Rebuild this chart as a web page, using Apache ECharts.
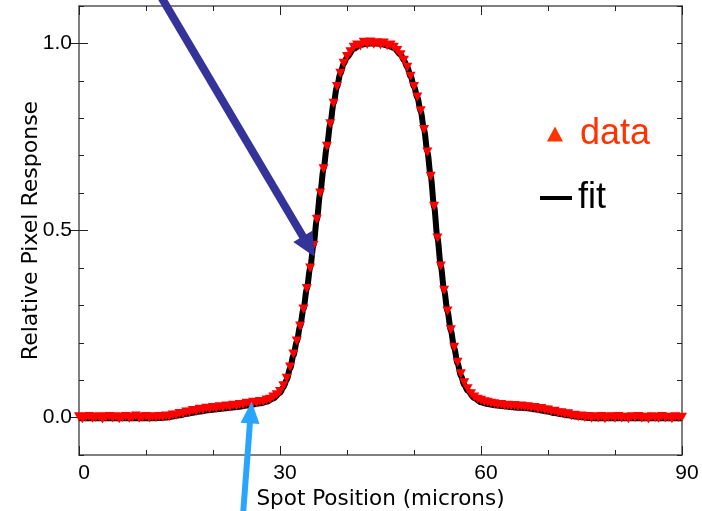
<!DOCTYPE html>
<html>
<head>
<meta charset="utf-8">
<script src="https://cdn.jsdelivr.net/npm/echarts@6/dist/echarts.min.js"></script>
<style>html,body{margin:0;padding:0;background:#fff}#c{width:702px;height:511px}</style>
</head>
<body>
<div id="c"></div>
<script>
// ---- data ----
const dataX = [0,0.5,1,1.5,2,2.5,3,3.5,4,4.5,5,5.5,6,6.5,7,7.5,8,8.5,9,9.5,10,10.5,11,11.5,12,12.5,
13,13.5,14,14.5,15,15.5,16,16.5,17,17.5,18,18.5,19,19.5,20,20.5,21,21.5,22,22.5,23,23.5,24,24.5,25,25.5,26,26.5,27,27.5,28,28.5,29,29.5,
30,30.5,31,31.5,32,32.5,33,33.5,34,34.5,35,35.5,36,36.5,37,37.5,38,38.5,39,39.5,40,40.5,41,41.5,42,42.5,43,43.5,44,44.5,45,45.5,46,46.5,47,47.5,48,48.5,49,49.5,50,50.5,51,51.5,52,52.5,53,53.5,54,54.5,55,55.5,56,56.5,57,57.5,58,58.5,59,59.5,
60,60.5,61,61.5,62,62.5,63,63.5,64,64.5,65,65.5,66,66.5,67,67.5,68,68.5,69,69.5,70,70.5,71,71.5,72,72.5,73,73.5,74,74.5,75,
75.5,76,76.5,77,77.5,78,78.5,79,79.5,80,80.5,81,81.5,82,82.5,83,83.5,84,84.5,85,85.5,86,86.5,87,87.5,88,88.5,89,89.5,90];
const dataY = [0.002,-0.003,0.001,0.003,-0.002,0.000,0.002,-0.004,0.001,0.003,-0.001,0.002,-0.003,0.000,0.003,-0.002,0.001,0.004,-0.002,0.001,0.003,-0.001,0.002,0.000,0.003,0.001,
0.004,0.003,0.007,0.006,0.011,0.010,0.015,0.014,0.019,0.017,0.022,0.020,0.025,0.023,0.027,0.025,0.029,0.027,0.031,0.029,0.033,0.031,0.035,0.034,0.038,0.036,0.041,0.039,0.043,0.042,0.047,0.049,0.055,0.061,
0.070,0.085,0.105,0.135,0.170,0.205,0.245,0.290,0.345,0.400,0.460,0.530,0.600,0.665,0.725,0.785,0.840,0.885,0.920,0.947,0.965,0.978,0.990,0.996,0.993,1.003,0.997,1.004,0.998,1.002,0.996,1.001,0.994,0.996,0.990,0.981,0.970,0.955,0.936,0.912,0.885,0.857,0.820,0.770,0.710,0.645,0.565,0.480,0.405,0.340,0.285,0.235,0.188,0.148,0.117,0.093,0.077,0.064,0.055,0.049,
0.046,0.042,0.041,0.038,0.037,0.035,0.035,0.032,0.033,0.031,0.032,0.029,0.031,0.028,0.029,0.026,0.027,0.023,0.024,0.020,0.020,0.016,0.017,0.012,0.013,0.009,0.010,0.005,0.006,0.002,0.004,
0.000,0.003,-0.002,0.002,-0.001,0.003,-0.003,0.001,0.002,-0.002,0.003,-0.001,0.001,-0.003,0.002,0.000,0.003,-0.002,0.001,-0.004,0.002,0.000,-0.002,0.003,-0.001,0.001,-0.003,0.002,0.000,0.001];

const fitX = [0,2,4,6,8,10,12,
13,14,15,16,17,18,19,20,21,22,23,24,25,26,27,28,29,30,
30.5,31,31.5,32,32.5,33,33.5,34,34.5,35,35.5,36,36.5,37,37.5,38,38.5,39,39.5,40,
41,42,43,44,45,46,47,48,
48.5,49,49.5,50,50.5,51,51.5,52,52.5,53,53.5,54,54.5,55,55.5,56,56.5,57,57.5,58,
59,60,61,62,63,64,65,66,67,68,69,70,71,72,73,74,75,76,
78,80,85,90];
const fitY = [-0.002,-0.002,-0.002,-0.002,-0.002,-0.002,-0.001,
0.000,0.003,0.006,0.010,0.013,0.016,0.019,0.021,0.023,0.025,0.027,0.029,0.032,0.035,0.038,0.042,0.051,0.066,
0.081,0.101,0.131,0.166,0.203,0.244,0.290,0.344,0.400,0.461,0.530,0.600,0.665,0.725,0.785,0.840,0.884,0.919,0.945,0.963,
0.986,0.996,0.999,1.000,0.999,0.995,0.988,0.970,
0.955,0.936,0.912,0.885,0.856,0.819,0.770,0.710,0.644,0.564,0.480,0.405,0.340,0.284,0.233,0.186,0.145,0.112,0.088,0.072,
0.052,0.041,0.036,0.033,0.031,0.029,0.027,0.026,0.025,0.022,0.019,0.016,0.012,0.009,0.006,0.003,0.001,-0.001,
-0.002,-0.002,-0.002,-0.002];

const xTickValues = [0, 30, 60, 90];
const xTickLabels = ['0', '30', '60', '90'];
const yTickValues = [0, 0.5, 1.0];
const yTickLabels = ['0.0', '0.5', '1.0'];
const seriesNames = ['data', 'fit'];
const xName = 'Spot Position (microns)';
const yName = 'Relative Pixel Response';

// ---- build ----
const dataPts = dataX.map((x, i) => [x, dataY[i]]);
const fitPts = fitX.map((x, i) => [x, fitY[i]]);

const tickFont = "'Liberation Sans', Arial, sans-serif";
const nameFont = "'DejaVu Sans', Verdana, sans-serif";
const frame = { color: '#555', width: 1.5 };

function pick(vals, labels, v) {
  const i = vals.findIndex(t => Math.abs(t - v) < 1e-6);
  return i >= 0 ? labels[i] : '';
}

const xCommon = {
  type: 'value', min: 0, max: 90, interval: 30,
  axisLine: { show: true, onZero: false, lineStyle: frame },
  axisTick: { show: true, inside: true, length: 9, lineStyle: { color: '#222', width: 1 } },
  minorTick: { show: true, splitNumber: 3, length: 5, lineStyle: { color: '#222', width: 1 } },
  splitLine: { show: false }, minorSplitLine: { show: false }
};
const yMinor = {
  type: 'value', min: -0.1, max: 1.1, interval: 0.1,
  axisLine: { show: true, onZero: false, lineStyle: frame },
  axisTick: { show: true, inside: true, length: 5, lineStyle: { color: '#222', width: 1 } },
  splitLine: { show: false }
};
const yMajor = {
  type: 'value', min: -0.1, max: 1.1,
  axisLine: { show: false },
  axisTick: { show: true, inside: true, length: 9, customValues: yTickValues, lineStyle: { color: '#222', width: 1 } },
  axisLabel: { show: false },
  splitLine: { show: false }
};

const chart = echarts.init(document.getElementById('c'), null, { renderer: 'canvas' });
chart.setOption({
  animation: false,
  backgroundColor: '#fff',
  grid: { left: 79, right: 20, top: 6, bottom: 56, containLabel: false, outerBoundsMode: 'none' },
  xAxis: [
    Object.assign({}, xCommon, {
      position: 'bottom',
      axisLabel: {
        show: true, color: '#000', fontSize: 21, fontFamily: tickFont, margin: 8,
        padding: [0, 0, 0, 10],
        formatter: v => pick(xTickValues, xTickLabels, v)
      },
      name: xName, nameLocation: 'middle', nameGap: 33, nameMoveOverlap: false,
      nameTextStyle: { color: '#000', fontSize: 21.5, fontFamily: nameFont }
    }),
    Object.assign({}, xCommon, { position: 'top', axisLabel: { show: false } })
  ],
  yAxis: [
    Object.assign({}, yMinor, {
      position: 'left',
      axisLabel: {
        show: true, color: '#000', fontSize: 21, fontFamily: tickFont, margin: 7,
        formatter: v => pick(yTickValues, yTickLabels, v)
      },
      name: yName, nameLocation: 'middle', nameGap: 37, nameRotate: 90, nameMoveOverlap: false,
      nameTextStyle: { color: '#000', fontSize: 22, fontFamily: nameFont }
    }),
    Object.assign({}, yMajor, { position: 'left' }),
    Object.assign({}, yMinor, { position: 'right', axisLabel: { show: false } }),
    Object.assign({}, yMajor, { position: 'right' })
  ],
  legend: [
    {
      data: [{ name: seriesNames[0], icon: 'triangle', itemStyle: { color: '#ff3300' },
               textStyle: { color: '#ff3300' } }],
      left: 547, top: 116, orient: 'vertical', padding: 0,
      itemWidth: 16, itemHeight: 15, symbolRotate: 0,
      textStyle: { fontSize: 36, fontFamily: "'Liberation Sans', Arial, sans-serif", padding: [0, 0, 0, 12] },
      selectedMode: false
    },
    {
      data: [{ name: seriesNames[1], icon: 'rect', itemStyle: { color: '#000' },
               textStyle: { color: '#000' } }],
      left: 540, top: 180, orient: 'vertical', padding: 0,
      itemWidth: 32, itemHeight: 4,
      textStyle: { fontSize: 36, fontFamily: "'Liberation Sans', Arial, sans-serif", padding: [22, 0, 0, 1] },
      selectedMode: false
    }
  ],
  series: [
    {
      name: seriesNames[1], type: 'line', data: fitPts, xAxisIndex: 0, yAxisIndex: 0,
      smooth: 0.3, smoothMonotone: 'x', showSymbol: false, symbol: 'none',
      lineStyle: { color: '#000', width: 6 }, itemStyle: { color: '#000' }, z: 2, silent: true
    },
    {
      name: seriesNames[0], type: 'scatter', data: dataPts, xAxisIndex: 0, yAxisIndex: 0,
      symbol: 'triangle', symbolRotate: 180, symbolSize: [10, 9],
      itemStyle: { color: '#ff0000', opacity: 1 }, z: 3, silent: true
    }
  ],
  graphic: [
    // dark blue annotation arrow
    { type: 'line', z: 100, shape: { x1: 157, y1: -10, x2: 303.8, y2: 238 },
      style: { stroke: '#333399', lineWidth: 8 } },
    { type: 'polygon', z: 100, shape: { points: [[315, 257], [293.3, 241.9], [312.3, 230.7]] },
      style: { fill: '#333399' } },
    // light blue annotation arrow
    { type: 'line', z: 100, shape: { x1: 243, y1: 515, x2: 250, y2: 422 },
      style: { stroke: '#2aa5ff', lineWidth: 6 } },
    { type: 'polygon', z: 100, shape: { points: [[251.7, 401.5], [259.5, 424.1], [240.5, 422.7]] },
      style: { fill: '#2aa5ff' } }
  ]
});
</script>
</body>
</html>
